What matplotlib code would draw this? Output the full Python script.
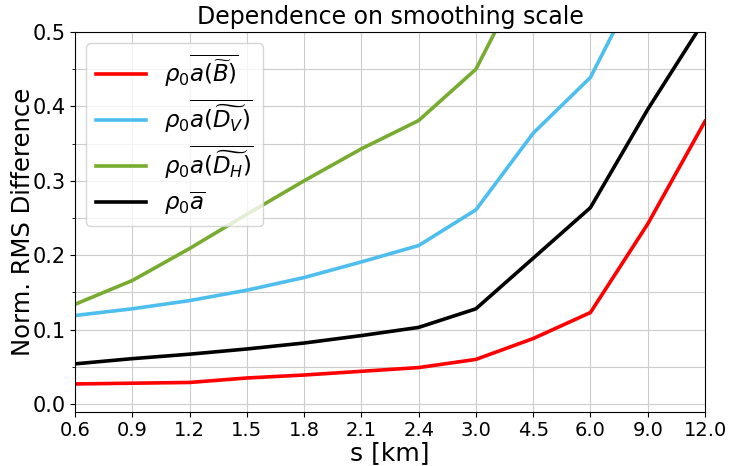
import numpy as np
import matplotlib.pyplot as plt

# smoothing scales (km), plotted as evenly spaced categories
scales = ["0.6", "0.9", "1.2", "1.5", "1.8", "2.1", "2.4", "3.0", "4.5", "6.0", "9.0", "12.0"]

rms_B = [0.027, 0.028, 0.029, 0.035, 0.039, 0.044, 0.049, 0.060, 0.088, 0.123, 0.242, 0.380]
rms_DV = [0.119, 0.128, 0.139, 0.153, 0.170, 0.191, 0.213, 0.261, 0.364, 0.439, 0.59, 0.75]
rms_DH = [0.134, 0.166, 0.209, 0.255, 0.300, 0.343, 0.381, 0.450, 0.60, 0.80, 1.10, 1.40]
rms_a = [0.054, 0.061, 0.067, 0.074, 0.082, 0.092, 0.103, 0.128, 0.196, 0.264, 0.396, 0.517]

labels = [r"$\rho_0\overline{a(\widetilde{B})}$",
          r"$\rho_0\overline{a(\widetilde{D_V})}$",
          r"$\rho_0\overline{a(\widetilde{D_H})}$",
          r"$\rho_0\overline{a}$"]
colors = ["#ff0000", "#4dbeee", "#77ac30", "#000000"]

x = np.arange(len(scales))

fig, ax = plt.subplots(figsize=(7.29, 4.66), dpi=100)
for y, lab, c in zip([rms_B, rms_DV, rms_DH, rms_a], labels, colors):
    ax.plot(x, y, color=c, lw=2.6, label=lab)

ax.set_xlim(0, len(scales) - 1)
ax.set_ylim(-0.0107, 0.5)
ax.set_xticks(x)
ax.set_xticklabels(scales, fontsize=14)
ax.set_yticks([0.0, 0.1, 0.2, 0.3, 0.4, 0.5])
ax.set_yticks(np.arange(0.05, 0.5, 0.1), minor=True)
ax.tick_params(axis="y", labelsize=15)
ax.tick_params(axis="x", pad=3)
ax.grid(True, which="both", color="#cccccc", lw=0.8)

ax.set_xlabel("s [km]", fontsize=18, labelpad=1)
ax.set_ylabel("Norm. RMS Difference", fontsize=17.5, labelpad=-2)
ax.set_title("Dependence on smoothing scale", fontsize=17)
ax.legend(loc="upper left", fontsize=16.5, handlelength=2.2, labelspacing=0.36)

fig.subplots_adjust(left=75 / 729, right=705 / 729, top=1 - 32 / 466, bottom=1 - 412 / 466)
plt.savefig("out.png")
